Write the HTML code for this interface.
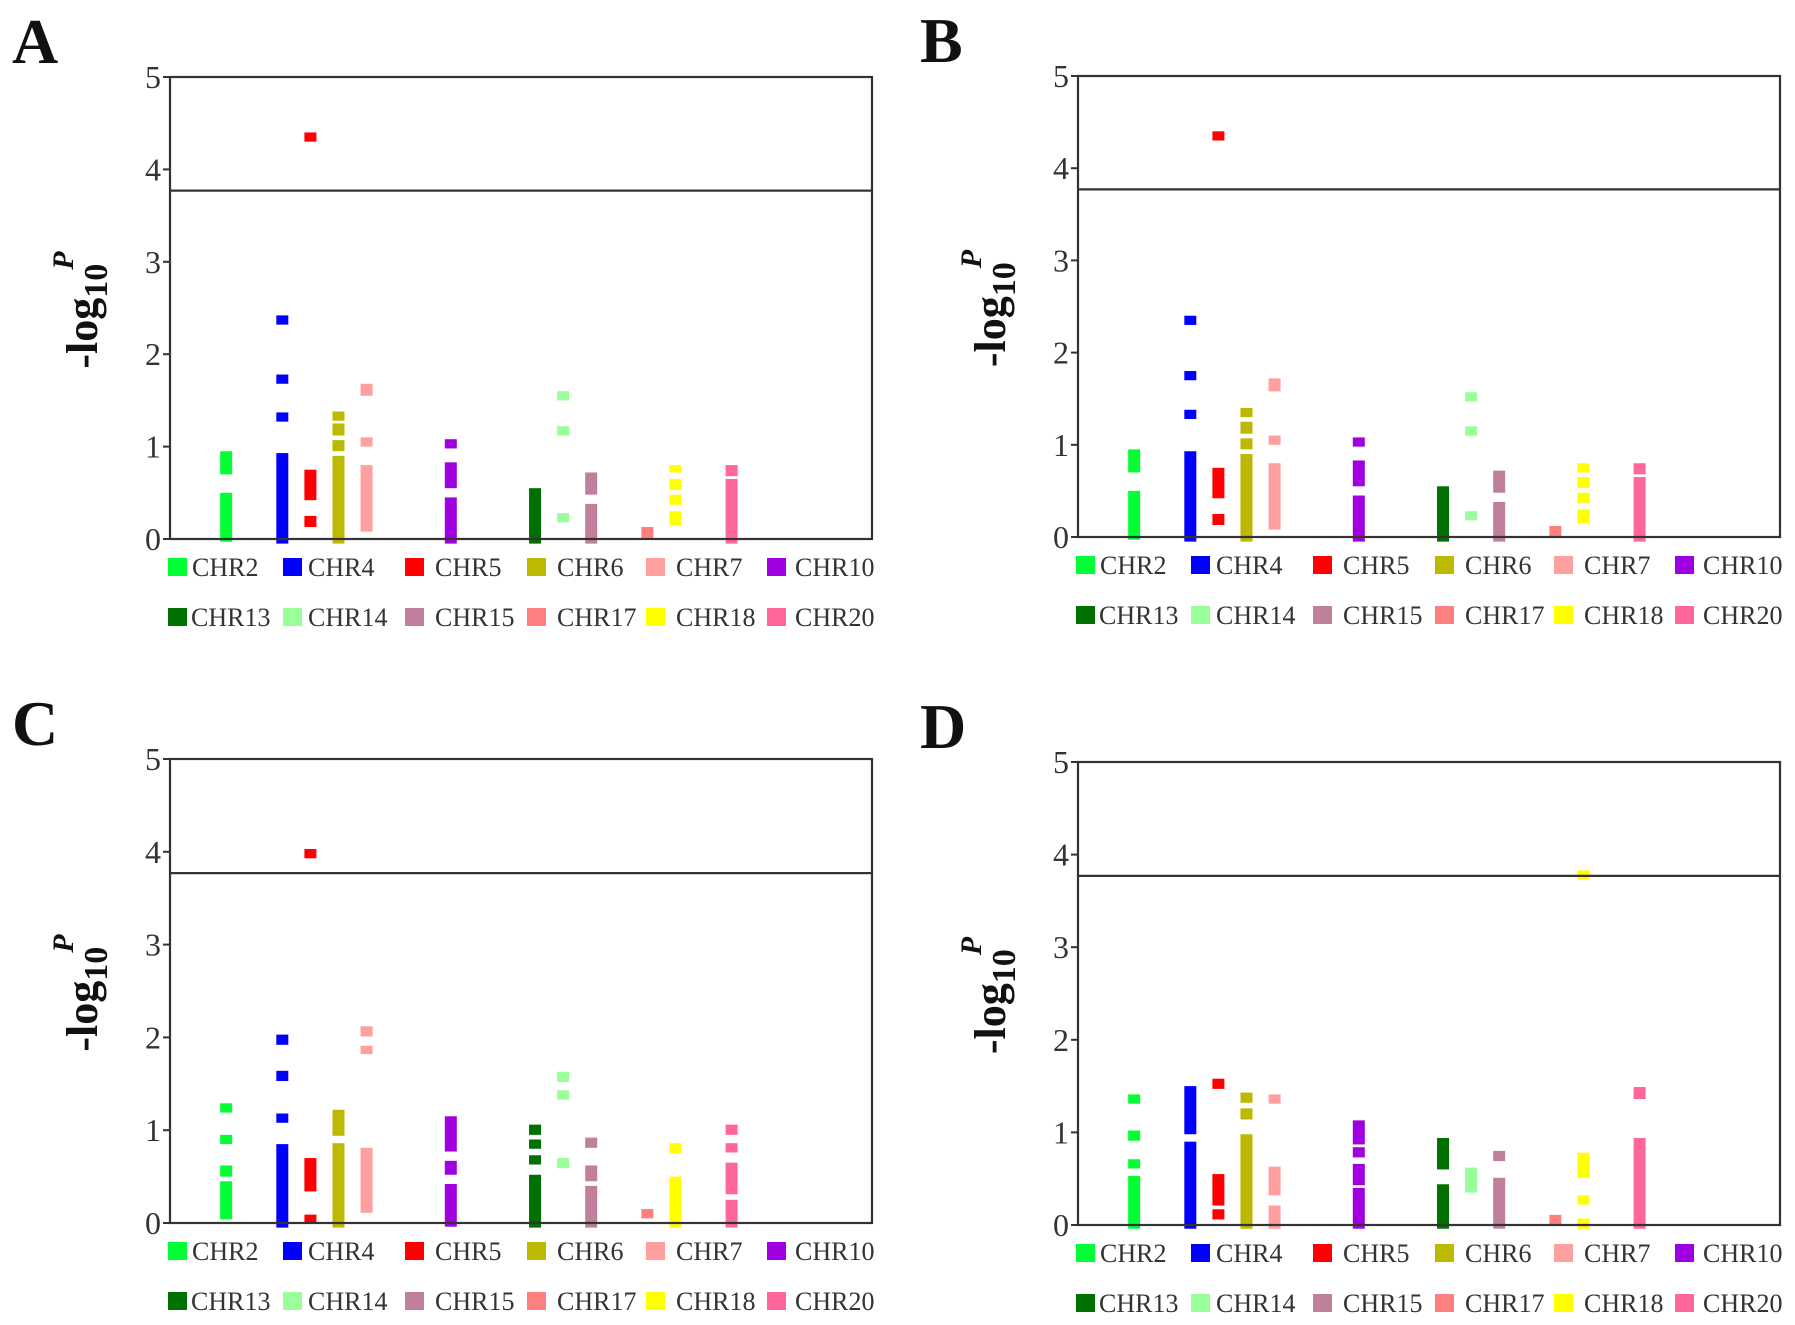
<!DOCTYPE html>
<html><head><meta charset="utf-8">
<style>
html,body{margin:0;padding:0;background:#fff;}
svg{display:block;}
text{font-family:"Liberation Serif",serif;}
</style></head>
<body>
<svg id="fig" width="1795" height="1325" viewBox="0 0 1795 1325" xmlns="http://www.w3.org/2000/svg"></svg>
<script>
const chromosomes = [2,4,5,6,7,10,13,14,15,17,18,20];
const chrLabels = ["CHR2","CHR4","CHR5","CHR6","CHR7","CHR10","CHR13","CHR14","CHR15","CHR17","CHR18","CHR20"];
const chrColors = ["#00ff33","#0000ff","#ff0000","#bdb800","#ff9f9f","#a000e0","#007000","#99ff99","#c07f9a","#ff7f7f","#ffff00","#ff6699"];
const yTicks = [0,1,2,3,4,5];
const threshold = 3.77;
// segments [low, high] of -log10 P per chromosome
const panelA = [
  [[-0.03,0.5],[0.7,0.95]],
  [[-0.05,0.93],[1.27,1.37],[1.68,1.78],[2.32,2.42]],
  [[0.13,0.25],[0.42,0.75],[4.3,4.4]],
  [[-0.05,0.9],[0.95,1.07],[1.12,1.25],[1.28,1.38]],
  [[0.08,0.8],[1.0,1.1],[1.55,1.68]],
  [[-0.05,0.45],[0.55,0.83],[0.98,1.08]],
  [[-0.05,0.55]],
  [[0.18,0.28],[1.12,1.22],[1.5,1.6]],
  [[-0.05,0.38],[0.48,0.72]],
  [[0,0.13]],
  [[0.15,0.3],[0.37,0.48],[0.53,0.65],[0.72,0.8]],
  [[-0.05,0.65],[0.68,0.8]]
];
const panelB = [
  [[-0.03,0.5],[0.7,0.95]],
  [[-0.05,0.93],[1.28,1.38],[1.7,1.8],[2.3,2.4]],
  [[0.13,0.25],[0.42,0.75],[4.3,4.4]],
  [[-0.05,0.9],[0.95,1.07],[1.12,1.25],[1.3,1.4]],
  [[0.08,0.8],[1.0,1.1],[1.58,1.72]],
  [[-0.05,0.45],[0.55,0.83],[0.98,1.08]],
  [[-0.05,0.55]],
  [[0.18,0.28],[1.1,1.2],[1.47,1.57]],
  [[-0.05,0.38],[0.48,0.72]],
  [[0,0.12]],
  [[0.15,0.3],[0.37,0.48],[0.53,0.65],[0.7,0.8]],
  [[-0.05,0.65],[0.68,0.8]]
];
const panelC = [
  [[0.04,0.45],[0.5,0.62],[0.85,0.95],[1.19,1.29]],
  [[-0.05,0.85],[1.08,1.18],[1.53,1.64],[1.92,2.03]],
  [[0,0.09],[0.34,0.7],[3.93,4.03]],
  [[-0.05,0.86],[0.94,1.22]],
  [[0.11,0.81],[1.82,1.91],[2.01,2.12]],
  [[-0.04,0.42],[0.52,0.67],[0.77,1.15]],
  [[-0.05,0.52],[0.63,0.73],[0.8,0.9],[0.95,1.06]],
  [[0.59,0.7],[1.33,1.43],[1.52,1.63]],
  [[-0.05,0.4],[0.45,0.62],[0.81,0.92]],
  [[0.05,0.15]],
  [[-0.05,0.5],[0.75,0.86]],
  [[-0.05,0.25],[0.31,0.65],[0.76,0.86],[0.95,1.06]]
];
const panelD = [
  [[-0.04,0.53],[0.61,0.71],[0.91,1.02],[1.31,1.41]],
  [[-0.04,0.9],[0.98,1.5]],
  [[0.06,0.17],[0.21,0.55],[1.47,1.58]],
  [[-0.04,0.98],[1.14,1.26],[1.32,1.43]],
  [[-0.04,0.21],[0.32,0.63],[1.31,1.41]],
  [[-0.04,0.4],[0.43,0.66],[0.73,0.84],[0.87,1.13]],
  [[-0.04,0.44],[0.6,0.94]],
  [[0.35,0.62]],
  [[-0.04,0.51],[0.69,0.8]],
  [[0,0.11]],
  [[-0.04,0.07],[0.22,0.32],[0.51,0.78],[3.73,3.83]],
  [[-0.04,0.94],[1.36,1.49]]
];
const panelData = [panelA, panelB, panelC, panelD];
const panelLetters = ["A","B","C","D"];

const NS = "http://www.w3.org/2000/svg";
const svg = document.getElementById("fig");
function mk(tag, attrs, parent){
  const e = document.createElementNS(NS, tag);
  for (const k in attrs) e.setAttribute(k, attrs[k]);
  (parent||svg).appendChild(e);
  return e;
}
const layouts = [
  {left:170, right:872, top:77, y0:539},
  {left:1078, right:1780, top:76, y0:537},
  {left:170, right:872, top:759, y0:1223},
  {left:1078, right:1780, top:762, y0:1225}
];
const legendOffsets = [-2,113,235,357,476,597];
const textGaps = [24,25,30,30,30,28];

panelData.forEach((segs, p) => {
  const L = layouts[p];
  const g = mk("g", {});
  
  
  const yScale = v => L.y0 - v * (L.y0 - L.top) / 5;
  const xScale = c => L.left + c * (L.right - L.left) / 25;

  const letter = mk("text", {x: L.left - 158, y: L.top - 14, "font-size": 64, "font-weight": "bold", fill: "#111"}, g);
  letter.textContent = panelLetters[p];
  
  

  segs.forEach((list, i) => {
    list.forEach(s => {
      const r = mk("rect", {x: xScale(chromosomes[i]) - 6, y: yScale(s[1]), width: 12, height: Math.max(2, yScale(s[0]) - yScale(s[1])), fill: chrColors[i]}, g);
      
      
    });
  });

  const frame = mk("rect", {x: L.left, y: L.top, width: L.right - L.left, height: L.y0 - L.top, fill: "none", stroke: "#333", "stroke-width": 2.2}, g);
  
  
  const th = mk("line", {x1: L.left, x2: L.right, y1: yScale(threshold), y2: yScale(threshold), stroke: "#333", "stroke-width": 2.2}, g);
  
  

  yTicks.forEach(t => {
    const tk = mk("line", {x1: L.left - 7, x2: L.left, y1: yScale(t), y2: yScale(t), stroke: "#333", "stroke-width": 2}, g);
    
    
    const tl = mk("text", {x: L.left - 9, y: yScale(t) + 11, "font-size": 32, "text-anchor": "end", fill: "#333"}, g);
    tl.textContent = t;
    
    
  });

  const cy = (L.top + L.y0) / 2 + 2;
  const yt = mk("text", {x: 0, y: 0, "font-size": 44, "font-weight": "bold", fill: "#111", "text-anchor": "middle", transform: "translate(" + (L.left - 73) + "," + cy + ") rotate(-90)"}, g);
  
  
  const t1 = mk("tspan", {}, yt); t1.textContent = "-log";
  const t2 = mk("tspan", {dy: 10, "font-size": 34}, yt); t2.textContent = "10";
  const t3 = mk("tspan", {dy: -34, dx: -6, "font-size": 30, "font-style": "italic"}, yt); t3.textContent = "P";

  chrLabels.forEach((lab, i) => {
    const col = i % 6, row = Math.floor(i / 6);
    const sx = L.left + legendOffsets[col];
    const sy = L.y0 + 19 + row * 50;
    const lg = mk("g", {}, g);
    
    
    mk("rect", {x: sx, y: sy, width: 19, height: 18, fill: chrColors[i]}, lg);
    const tx = mk("text", {x: sx + (row === 1 && col === 0 ? 23 : textGaps[col]), y: sy + 18, "font-size": 26, fill: "#333"}, lg);
    tx.textContent = lab;
  });
});
</script>
</body></html>
